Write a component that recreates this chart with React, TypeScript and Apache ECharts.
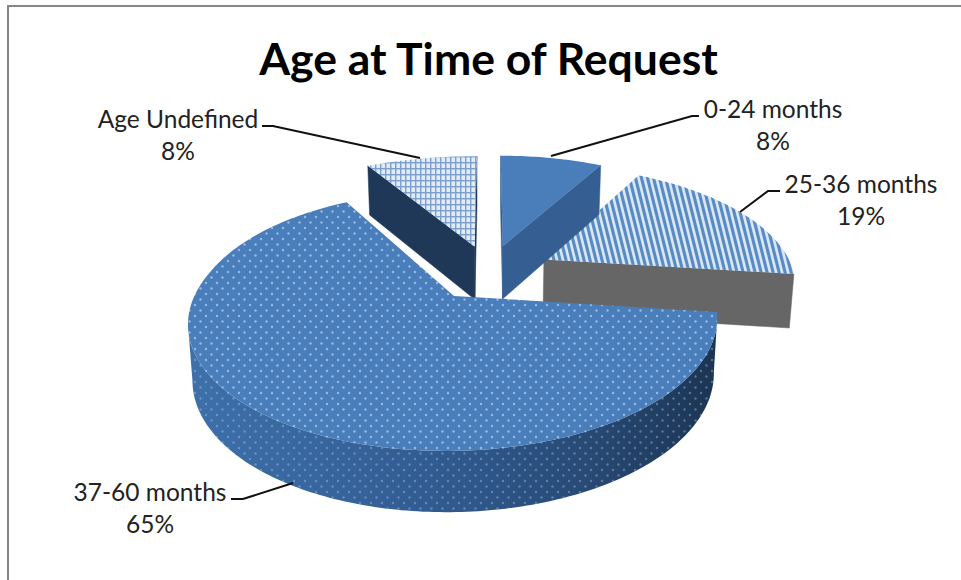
import React, { useEffect, useRef } from "react";
import * as echarts from "echarts";

const SLICE_NAMES = ["0-24 months", "25-36 months", "37-60 months", "Age Undefined"];
const SLICE_VALUES = [8, 19, 65, 8];
const TITLE_TEXT = "Age at Time of Request";

// Projection of the tilted pie plane onto the page
const CX = 488;
const CY = 271;
const SCALE_X = 250;
const SCALE_Y = 116;
const PERSPECTIVE = 0.186;
const EXPLODE = 0.24;
const DEPTH = 54;
const DRAW_ORDER = [20, 10, 30, 5];

// Per-slice fine placement: page offset, widening about the apex, lean of the far edge
const NUDGE_X = [0.5, 3.5, 1, 1];
const NUDGE_Y = [1, 1, 1, 1.5];
const WIDEN = [1, 1, 1, 1.09];
const FAR_LEAN = [0, 0, 8, 0];

// Label anchors and leader lines, one per slice
const LABEL_POS = [
  [773, 124],
  [861, 199],
  [150, 507],
  [178, 134],
];
const LEADERS = [
  [[551, 156], [692, 116], [699, 116]],
  [[740, 212], [768, 191], [780, 191]],
  [[293, 483], [243, 499], [231, 499]],
  [[420, 158], [273, 126], [262, 126]],
];

function tile(w: number, h: number, paint: (c: CanvasRenderingContext2D) => void) {
  const canvas = document.createElement("canvas");
  canvas.width = w;
  canvas.height = h;
  paint(canvas.getContext("2d")!);
  return { type: "pattern", image: canvas, repeat: "repeat", imageWidth: w, imageHeight: h };
}

function dots(c: CanvasRenderingContext2D, fill: string) {
  c.fillStyle = fill;
  [[2.5, 2.5], [8, 8]].forEach(([x, y]) => {
    c.beginPath();
    c.arc(x, y, 1.2, 0, Math.PI * 2);
    c.fill();
  });
}

function makeFills() {
  const dotted = tile(11, 11, (c) => {
    c.fillStyle = "#4a7ebb";
    c.fillRect(0, 0, 11, 11);
    dots(c, "rgba(190,220,248,0.65)");
  });
  const dotOverlay = tile(11, 11, (c) => dots(c, "rgba(170,205,240,0.4)"));
  const stripes = tile(6, 24, (c) => {
    c.fillStyle = "#5b8bc3";
    c.fillRect(0, 0, 6, 24);
    c.strokeStyle = "#d8e8f8";
    c.lineWidth = 2.7;
    for (let i = -12; i <= 12; i += 6) {
      c.beginPath();
      c.moveTo(i - 0.25, -1);
      c.lineTo(i + 6.25, 25);
      c.stroke();
    }
  });
  const plaid = tile(5, 6, (c) => {
    c.fillStyle = "#e1ecf8";
    c.fillRect(0, 0, 5, 6);
    c.fillStyle = "#7d9fce";
    c.fillRect(0, 0, 1.4, 6);
    c.fillRect(0, 0, 5, 1.4);
  });
  return { dotted, dotOverlay, stripes, plaid };
}

function project(X: number, Y: number) {
  const s = 1 / (1 - PERSPECTIVE * Y);
  return [CX + SCALE_X * X * s, CY + SCALE_Y * Y * s, s];
}

function drop(p: number[]) {
  return [CX + (p[0] - CX) * 0.985, p[1] + DEPTH * Math.pow(p[2], 0.5)];
}

export default function App() {
  const ref = useRef<HTMLDivElement>(null);

  useEffect(() => {
    const chart = echarts.init(ref.current!, undefined, { renderer: "svg" });
    const fills = makeFills();
    const total = SLICE_VALUES.reduce((a, b) => a + b, 0);
    const topFills = ["#4a7ebb", fills.stripes, fills.dotted, fills.plaid];
    const rimGradient = {
      type: "linear", x: 0, y: 0, x2: 1, y2: 0,
      colorStops: [
        { offset: 0, color: "#3f70aa" },
        { offset: 0.45, color: "#315c92" },
        { offset: 0.75, color: "#284a75" },
        { offset: 1, color: "#1c3453" },
      ],
    };
    const cutFills = ["#355f92", "#666666", "#315c92", "#1f3857"];

    const renderItem = (params: any, api: any) => {
      const idx = params.dataIndex;
      const value = api.value(0);
      const before = SLICE_VALUES.slice(0, idx).reduce((a, b) => a + b, 0);
      const a0 = (before / total) * Math.PI * 2;
      const a1 = a0 + (value / total) * Math.PI * 2;
      const mid = (a0 + a1) / 2;
      const ox = EXPLODE * Math.sin(mid);
      const oy = -EXPLODE * Math.cos(mid);

      const place = (u: number, v: number) => {
        const Y = oy + v;
        const p = project(ox + u * WIDEN[idx], Y);
        const lean = Y < 0 ? FAR_LEAN[idx] * Y : 0;
        return [p[0] + NUDGE_X[idx] + lean, p[1] + NUDGE_Y[idx], p[2]];
      };

      const outline: number[][] = [place(0, 0)];
      const steps = Math.max(8, Math.round(((a1 - a0) * 180) / Math.PI));
      for (let i = 0; i <= steps; i++) {
        const t = a0 + ((a1 - a0) * i) / steps;
        outline.push(place(Math.sin(t), -Math.cos(t)));
      }
      outline.push(outline[0]);

      const z2 = DRAW_ORDER[idx];
      const children: any[] = [];
      // Walls: every outline edge running right-to-left faces the viewer
      let run: number[][] = [];
      const flush = () => {
        if (run.length > 1) {
          const pts = run.map((p) => [p[0], p[1]]).concat(run.slice().reverse().map(drop));
          const isRim = run.length > 2;
          children.push({
            type: "polygon",
            shape: { points: pts },
            z2,
            style: {
              fill: isRim ? rimGradient : cutFills[idx],
              stroke: isRim ? undefined : cutFills[idx],
              lineWidth: 0.5,
            },
          });
          if (isRim) {
            children.push({
              type: "polygon",
              shape: { points: pts },
              z2,
              style: { fill: fills.dotOverlay },
            });
          }
        }
        run = [];
      };
      for (let i = 0; i < outline.length - 1; i++) {
        const p = outline[i];
        const q = outline[i + 1];
        if (q[0] < p[0]) {
          if (!run.length) run.push(p);
          run.push(q);
        } else {
          flush();
        }
      }
      flush();

      children.push({
        type: "polygon",
        shape: { points: outline.slice(0, -1).map((p) => [p[0], p[1]]) },
        z2: z2 + 1,
        style: { fill: topFills[idx] },
      });
      return { type: "group", children };
    };

    chart.setOption({
      animation: false,
      backgroundColor: "#ffffff",
      title: {
        text: TITLE_TEXT,
        left: 483.5,
        top: 30,
        textAlign: "center",
        textStyle: { fontFamily: "Lato", fontWeight: "bold", fontSize: 44.5, color: "#000000" },
      },
      series: [
        {
          type: "custom",
          coordinateSystem: "none",
          silent: true,
          renderItem,
          data: SLICE_VALUES.map((v) => [v]),
        },
      ],
      graphic: [
        { type: "line", silent: true, shape: { x1: 7, y1: 6, x2: 961, y2: 6 }, style: { stroke: "#868686", lineWidth: 2 } },
        { type: "line", silent: true, shape: { x1: 8, y1: 5, x2: 8, y2: 580 }, style: { stroke: "#868686", lineWidth: 2 } },
        ...LEADERS.map((pts) => ({
          type: "polyline",
          silent: true,
          z: 10,
          shape: { points: pts },
          style: { stroke: "#111111", lineWidth: 2, fill: "none" },
        })),
        ...SLICE_NAMES.map((name, i) => ({
          type: "text",
          silent: true,
          z: 10,
          x: LABEL_POS[i][0],
          y: LABEL_POS[i][1],
          style: {
            text: `${name}\n${Math.round((SLICE_VALUES[i] / total) * 100)}%`,
            fontFamily: "Lato",
            fontSize: 24.5,
            lineHeight: 32,
            fill: "#222222",
            align: "center",
            verticalAlign: "middle",
          },
        })),
      ],
    });
    return () => chart.dispose();
  }, []);

  return <div ref={ref} style={{ position: "absolute", left: 0, top: 0, width: 961, height: 580 }} />;
}
